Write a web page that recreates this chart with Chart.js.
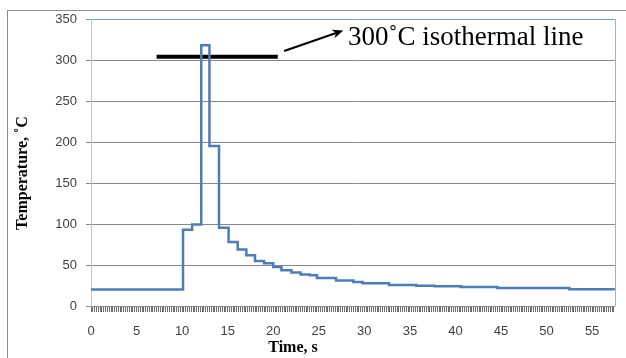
<!DOCTYPE html>
<html><head><meta charset="utf-8">
<script src="https://cdn.jsdelivr.net/npm/chart.js@4"></script>
<style>html,body{margin:0;padding:0;background:#fff}#wrap{width:626px;height:358px;position:relative}</style>
</head><body><div id="wrap"><canvas id="c" width="626" height="358"></canvas></div>
<script>
// Data (time in s, temperature in °C); each value holds until the next time
const times = [0, 10.1, 11.1, 12.1, 13.0, 14.05, 15.1, 16.1, 17.05, 18.0, 19.0, 20.0, 20.9, 22.0, 23.0, 24.0, 24.8, 26.9, 28.8, 29.8, 32.7, 35.7, 37.7, 40.6, 44.6, 52.5, 57.5];
const temps = [20, 93, 99.5, 318, 195, 95.5, 78, 69, 62, 55, 52, 47.5, 43.5, 41, 38.5, 37.5, 34.2, 31, 29.4, 27.7, 25.7, 24.8, 24, 23.2, 22, 20.4, 20.4];
const isoTimes = [7.2, 20.5];
const isoTemps = [304, 304];
const yTickValues = [0, 50, 100, 150, 200, 250, 300, 350];
const xMax = 57.5;
const xTickStep = 0.2;
const xLabelEvery = 5;
const xTitle = 'Time, s';
const yTitle = 'Temperature, ˚C';
const annotationText = '300˚C isothermal line';
const arrowFrom = {x: 21.2, y: 311};
const arrowTo = {x: 27.7, y: 336};
const annotationAnchor = {x: 28.2, y: 318.5};

const framePlugin = {
  id: 'frame',
  beforeDraw(chart) {
    const c = chart.ctx;
    c.save();
    c.fillStyle = '#fff';
    c.fillRect(0, 0, chart.width, chart.height);
    c.strokeStyle = '#8c8c8c';
    c.lineWidth = 1;
    c.strokeRect(7.5, 10.5, 700, 400);
    c.restore();
  },
  afterDraw(chart) {
    const c = chart.ctx, a = chart.chartArea;
    c.save();
    c.strokeStyle = '#9db3d6';
    c.lineWidth = 1;
    c.beginPath();
    c.moveTo(Math.round(a.right) + 0.5, a.top);
    c.lineTo(Math.round(a.right) + 0.5, a.bottom);
    c.stroke();
    c.fillStyle = '#000';
    c.font = 'bold 16px "Liberation Serif"';
    c.textAlign = 'center';
    c.textBaseline = 'middle';
    c.fillText(xTitle, 293, 348);
    c.translate(23, 173);
    c.rotate(-Math.PI / 2);
    c.fillText(yTitle, 0, 0);
    c.restore();
  }
};

const annotationPlugin = {
  id: 'annot',
  afterDatasetsDraw(chart) {
    const c = chart.ctx, xs = chart.scales.x, ys = chart.scales.y;
    const x1 = xs.getPixelForValue(arrowFrom.x), y1 = ys.getPixelForValue(arrowFrom.y);
    const x2 = xs.getPixelForValue(arrowTo.x), y2 = ys.getPixelForValue(arrowTo.y);
    const ang = Math.atan2(y2 - y1, x2 - x1);
    const hl = 11, hw = 4.5;
    c.save();
    c.strokeStyle = '#000';
    c.fillStyle = '#000';
    c.lineWidth = 2;
    c.beginPath();
    c.moveTo(x1, y1);
    c.lineTo(x2 - hl * 0.7 * Math.cos(ang), y2 - hl * 0.7 * Math.sin(ang));
    c.stroke();
    c.beginPath();
    c.moveTo(x2, y2);
    c.lineTo(x2 - hl * Math.cos(ang) + hw * Math.sin(ang), y2 - hl * Math.sin(ang) - hw * Math.cos(ang));
    c.lineTo(x2 - hl * 0.7 * Math.cos(ang), y2 - hl * 0.7 * Math.sin(ang));
    c.lineTo(x2 - hl * Math.cos(ang) - hw * Math.sin(ang), y2 - hl * Math.sin(ang) + hw * Math.cos(ang));
    c.closePath();
    c.fill();
    c.font = '27px "Liberation Serif"';
    c.textAlign = 'left';
    c.textBaseline = 'alphabetic';
    c.fillText(annotationText, xs.getPixelForValue(annotationAnchor.x), ys.getPixelForValue(annotationAnchor.y));
    c.restore();
  }
};

new Chart(document.getElementById('c'), {
  type: 'line',
  data: {
    datasets: [
      {
        data: times.map((t, i) => ({x: t, y: temps[i]})),
        stepped: true,
        borderColor: '#4a7ebb',
        borderWidth: 2.5,
        pointRadius: 0,
        fill: false
      },
      {
        data: isoTimes.map((t, i) => ({x: t, y: isoTemps[i]})),
        borderColor: '#000',
        borderWidth: 4,
        pointRadius: 0,
        fill: false
      }
    ]
  },
  options: {
    responsive: false,
    animation: false,
    events: [],
    layout: {padding: {left: 0, right: 11, top: 19, bottom: 0}},
    plugins: {legend: {display: false}, tooltip: {enabled: false}},
    scales: {
      x: {
        type: 'linear',
        min: 0,
        max: xMax,
        afterFit: s => { s.height = 52; },
        afterBuildTicks: s => {
          const t = [];
          const n = Math.floor(xMax / xTickStep + 1e-9);
          for (let i = 0; i <= n; i++) t.push({value: Math.round(i * xTickStep * 1000) / 1000});
          s.ticks = t;
        },
        ticks: {
          autoSkip: false,
          maxRotation: 0,
          minRotation: 0,
          padding: 12,
          color: '#404040',
          font: {family: '"Liberation Sans"', size: 13},
          callback: v => {
            const q = v / xLabelEvery;
            return Math.abs(q - Math.round(q)) < 1e-6 ? String(Math.round(v)) : '';
          }
        },
        grid: {display: true, drawOnChartArea: false, drawTicks: true, tickLength: 6, color: '#6e6e6e'},
        border: {display: true, color: '#8a8a8a'}
      },
      y: {
        min: 0,
        max: 350,
        afterFit: s => { s.width = 91; },
        afterBuildTicks: s => { s.ticks = yTickValues.map(v => ({value: v})); },
        ticks: {
          padding: 9,
          color: '#404040',
          font: {family: '"Liberation Sans"', size: 13}
        },
        grid: {
          color: ctx => (ctx.tick && ctx.tick.value === 350 ? '#7a96c4' : '#878787'),
          tickLength: 5
        },
        border: {display: true, color: '#c4c4c4'}
      }
    }
  },
  plugins: [framePlugin, annotationPlugin]
});
</script>
</body></html>
